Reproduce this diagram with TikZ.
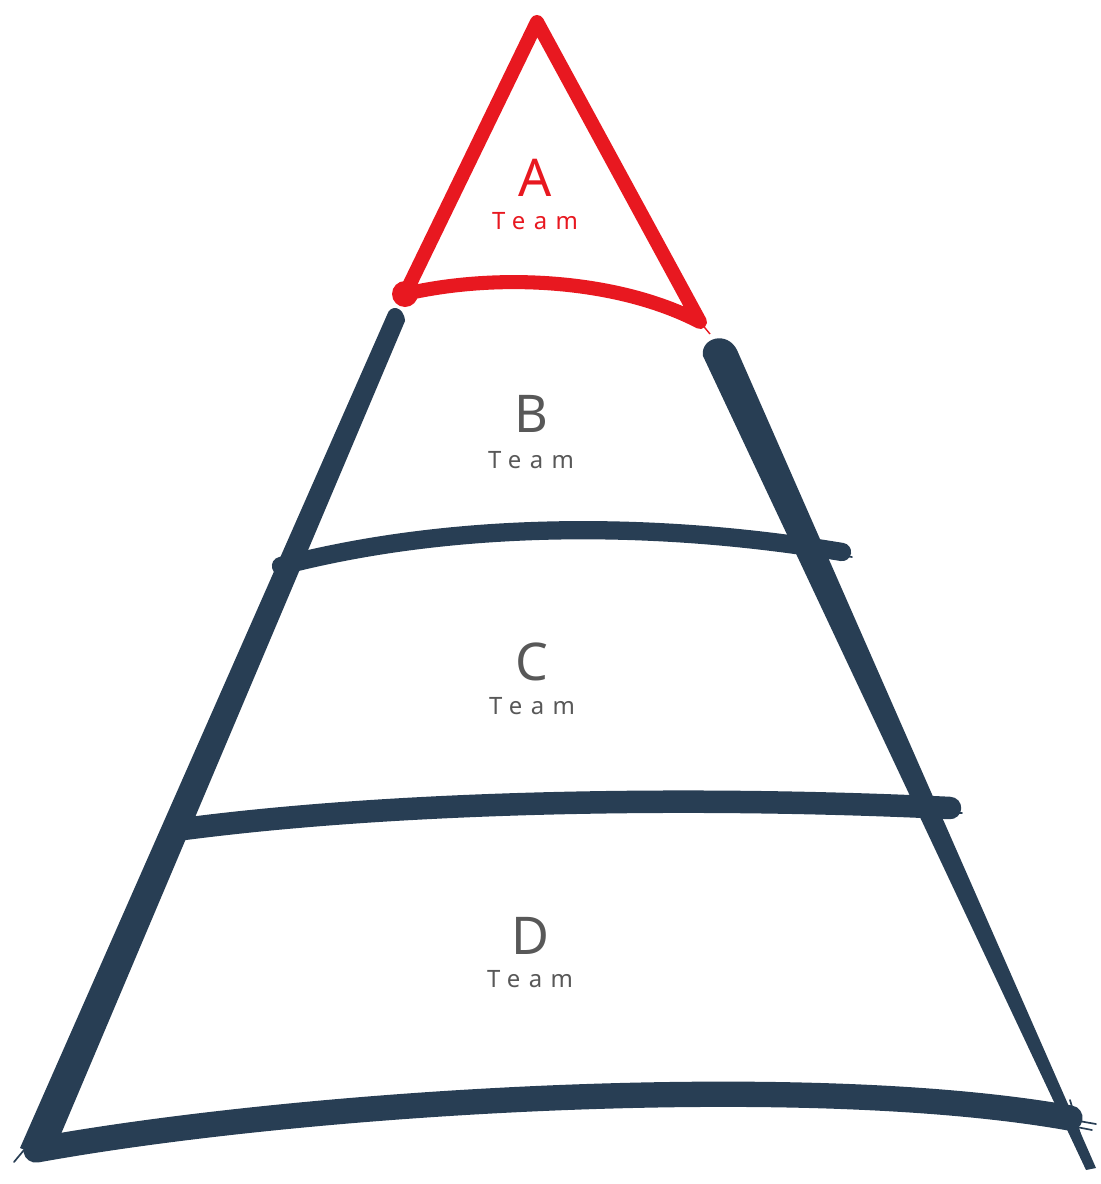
\documentclass[tikz,border=0pt]{standalone}
\usepackage{fontspec}
\setsansfont{Noto Sans}
\usetikzlibrary{positioning}
\definecolor{ink}{RGB}{40, 62, 84}
\definecolor{redink}{RGB}{232, 24, 32}
\definecolor{labelgray}{RGB}{88, 88, 88}
\tikzset{
  brush/.style={draw=ink, line width=17pt, line cap=round, line join=round},
  thinbrush/.style={draw=ink, line width=1.2pt, line cap=round},
  redbrush/.style={draw=redink, line width=10pt, line cap=round, line join=round},
  tier/.style={font=\sffamily\fontsize{37}{37}\selectfont, text=labelgray, inner sep=0pt},
  team/.style={font=\sffamily\fontsize{17}{17}\selectfont\addfontfeature{LetterSpace=35},
               text=labelgray, inner sep=0pt},
}

\begin{document}
\begin{tikzpicture}[x=0.025cm, y=-0.025cm]

  \useasboundingbox (0, 0) rectangle (1100, 1184);

  % ============ CORNERS ============
  \coordinate (apex)  at (537, 22);
  \coordinate (redL)  at (405, 294);
  \coordinate (redR)  at (700, 322);
  \coordinate (topL)  at (396, 318);
  \coordinate (topR)  at (718, 352);
  \coordinate (baseL) at (36, 1150);
  \coordinate (baseR) at (1090, 1168);

  % ============ DARK PYRAMID ============
  % left edge, widening towards the base
  \fill[ink] (387, 315) .. controls (390, 304) and (404, 306) .. (405, 321)
    -- (50, 1160) -- (20, 1148) -- cycle;
  % base
  \draw[brush, line width=18pt] (baseL)
    .. controls (300, 1102) and (800, 1070) .. (1070, 1118);
  \draw[thinbrush] (150, 1142) .. controls (500, 1092) and (850, 1082) .. (1092, 1130);
  \draw[thinbrush] (700, 1094) .. controls (900, 1097) and (1000, 1107) .. (1096, 1124);
  \draw[thinbrush] (24, 1150) -- ++(-10, 12);

  % right edge, tapering down
  \fill[ink] (703, 356) .. controls (700, 338) and (727, 330) .. (737, 350)
    -- (1096, 1168) -- (1086, 1170) -- cycle;
  \draw[thinbrush] (1070, 1100) -- (baseR);

  % tier lines
  \draw[brush, line width=13pt] (281, 566)
    .. controls (450, 522) and (650, 520) .. (842, 552);
  \draw[thinbrush] (600, 535) .. controls (720, 539) and (800, 549) .. (852, 557);
  \draw[brush, line width=16pt] (176, 830)
    .. controls (400, 800) and (700, 796) .. (950, 808);
  \draw[thinbrush] (700, 808) .. controls (850, 810) and (920, 812) .. (962, 813);

  % ============ RED TOP ============
  \draw[redbrush] (apex) -- (redL)
    .. controls (500, 272) and (620, 280) .. (redR) -- cycle;
  \fill[redink] (redL) circle (13);
  \draw[redink, line width=1pt] (redR) -- (710, 334);

  % ============ LABELS ============
  \node[tier, text=redink] (tA) at (535, 178) {A};
  \node[team, text=redink, below=11pt of tA] (mA) {Team};

  \node[tier] (tB) at (531, 414) {B};
  \node[team, below=13pt of tB] (mB) {Team};

  \node[tier] (tC) at (532, 662) {C};
  \node[team, below=11pt of tC] (mC) {Team};

  \node[tier] (tD) at (530, 936) {D};
  \node[team, below=11pt of tD] (mD) {Team};

\end{tikzpicture}
\end{document}
